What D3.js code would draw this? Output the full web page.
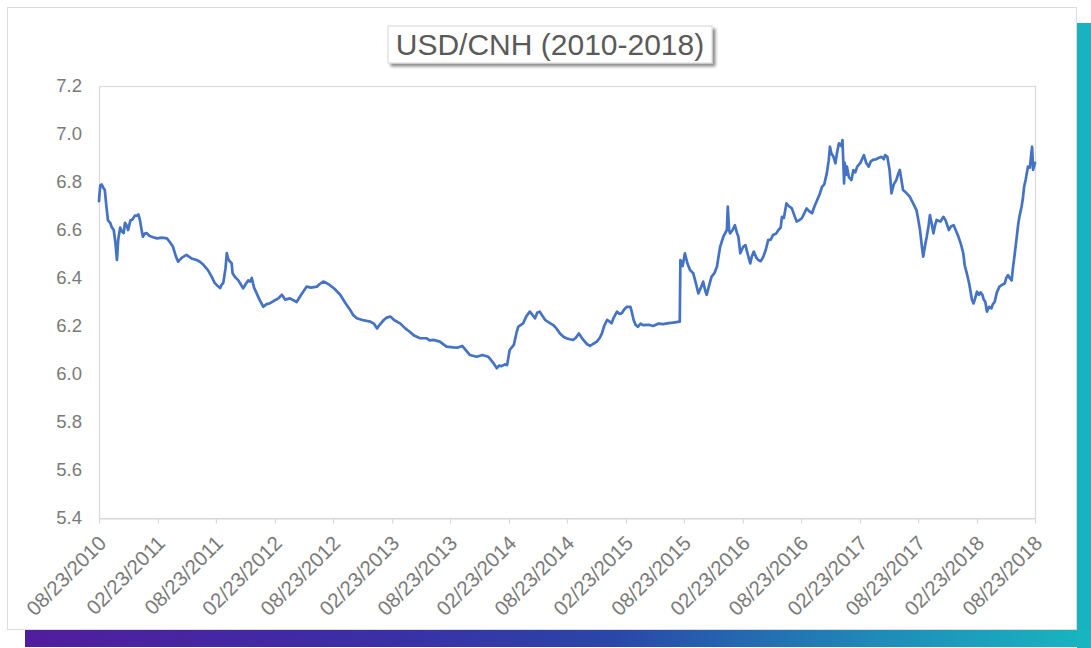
<!DOCTYPE html>
<html>
<head>
<meta charset="utf-8">
<script src="https://cdn.jsdelivr.net/npm/d3@7"></script>
<style>
  html, body { margin: 0; padding: 0; background: #ffffff; }
  svg { display: block; }
  text { font-family: "Liberation Sans", Arial, sans-serif; }
</style>
</head>
<body>
<svg id="chart" width="1091" height="648"></svg>
<script>
// USD/CNH closing levels, 2010-2018: [date, rate]
const observations = [
  ["2010-08-23",6.72],["2010-08-24",6.74],["2010-08-27",6.785],["2010-08-31",6.79],["2010-09-06",6.775],
  ["2010-09-10",6.767],["2010-09-15",6.70],["2010-09-20",6.64],["2010-09-27",6.63],["2010-10-01",6.614],
  ["2010-10-08",6.60],["2010-10-13",6.55],["2010-10-18",6.475],["2010-10-22",6.56],["2010-10-28",6.61],
  ["2010-11-02",6.595],["2010-11-08",6.587],["2010-11-12",6.63],["2010-11-17",6.62],["2010-11-22",6.60],
  ["2010-11-29",6.64],["2010-12-06",6.645],["2010-12-13",6.66],["2010-12-20",6.66],["2010-12-24",6.665],
  ["2010-12-29",6.64],
  ["2011-01-03",6.60],["2011-01-07",6.572],["2011-01-13",6.585],["2011-01-19",6.587],["2011-01-28",6.575],
  ["2011-02-08",6.57],["2011-02-20",6.565],["2011-03-07",6.568],["2011-03-23",6.565],["2011-04-01",6.55],
  ["2011-04-11",6.53],["2011-04-20",6.49],["2011-04-27",6.468],["2011-05-09",6.485],["2011-05-23",6.496],
  ["2011-06-10",6.48],["2011-06-24",6.475],["2011-07-04",6.468],["2011-07-15",6.455],["2011-07-29",6.433],
  ["2011-08-10",6.405],["2011-08-19",6.38],["2011-08-26",6.37],["2011-09-05",6.358],["2011-09-09",6.37],
  ["2011-09-15",6.38],["2011-09-22",6.44],["2011-09-26",6.504],["2011-09-30",6.48],["2011-10-05",6.47],
  ["2011-10-11",6.462],["2011-10-14",6.42],["2011-10-21",6.405],["2011-11-01",6.39],["2011-11-08",6.375],
  ["2011-11-16",6.357],["2011-11-24",6.375],["2011-12-02",6.39],["2011-12-08",6.385],["2011-12-13",6.40],
  ["2011-12-20",6.36],["2011-12-28",6.337],
  ["2012-01-06",6.31],["2012-01-18",6.28],["2012-01-27",6.29],["2012-02-08",6.295],["2012-02-20",6.305],
  ["2012-03-05",6.315],["2012-03-16",6.33],["2012-03-26",6.31],["2012-04-10",6.315],["2012-05-01",6.30],
  ["2012-05-15",6.33],["2012-06-01",6.364],["2012-06-15",6.36],["2012-07-03",6.364],["2012-07-12",6.375],
  ["2012-07-23",6.385],["2012-08-01",6.38],["2012-08-13",6.37],["2012-08-27",6.355],["2012-09-14",6.33],
  ["2012-09-28",6.30],["2012-10-15",6.267],["2012-10-25",6.245],["2012-11-05",6.232],["2012-11-22",6.225],
  ["2012-12-17",6.218],["2012-12-28",6.21],
  ["2013-01-07",6.19],["2013-01-15",6.205],["2013-01-28",6.225],["2013-02-06",6.235],["2013-02-18",6.239],
  ["2013-03-01",6.225],["2013-03-21",6.21],["2013-04-05",6.19],["2013-04-19",6.176],["2013-05-03",6.16],
  ["2013-05-21",6.149],["2013-06-10",6.149],["2013-06-20",6.14],["2013-07-02",6.142],["2013-07-22",6.135],
  ["2013-08-12",6.114],["2013-09-02",6.111],["2013-09-16",6.11],["2013-09-30",6.117],["2013-10-15",6.093],
  ["2013-10-24",6.079],["2013-11-05",6.075],["2013-11-14",6.072],["2013-12-02",6.079],["2013-12-20",6.072],
  ["2014-01-06",6.044],["2014-01-16",6.024],["2014-01-23",6.035],["2014-01-31",6.033],["2014-02-10",6.04],
  ["2014-02-17",6.037],["2014-02-25",6.10],["2014-03-03",6.11],["2014-03-10",6.121],["2014-03-18",6.17],
  ["2014-03-24",6.197],["2014-04-01",6.205],["2014-04-08",6.211],["2014-04-18",6.24],["2014-04-29",6.26],
  ["2014-05-08",6.245],["2014-05-15",6.232],["2014-05-22",6.255],["2014-05-30",6.26],["2014-06-06",6.245],
  ["2014-06-16",6.225],["2014-06-27",6.215],["2014-07-11",6.204],["2014-07-21",6.19],["2014-08-01",6.169],
  ["2014-08-12",6.155],["2014-08-21",6.149],["2014-09-01",6.145],["2014-09-11",6.142],["2014-09-19",6.15],
  ["2014-09-29",6.169],["2014-10-06",6.155],["2014-10-13",6.142],["2014-10-24",6.125],["2014-11-03",6.117],
  ["2014-11-12",6.125],["2014-11-24",6.135],["2014-12-03",6.15],["2014-12-10",6.169],["2014-12-17",6.20],
  ["2014-12-26",6.225],
  ["2015-01-02",6.22],["2015-01-09",6.211],["2015-01-16",6.235],["2015-01-26",6.26],["2015-02-03",6.25],
  ["2015-02-10",6.253],["2015-02-18",6.27],["2015-02-26",6.28],["2015-03-09",6.28],["2015-03-13",6.26],
  ["2015-03-19",6.225],["2015-03-25",6.205],["2015-04-01",6.197],["2015-04-10",6.21],["2015-04-17",6.204],
  ["2015-05-05",6.205],["2015-05-19",6.20],["2015-06-05",6.21],["2015-06-19",6.208],["2015-07-06",6.212],
  ["2015-07-20",6.214],["2015-08-10",6.218],["2015-08-12",6.475],["2015-08-19",6.45],["2015-08-26",6.503],
  ["2015-09-03",6.46],["2015-09-11",6.433],["2015-09-21",6.42],["2015-09-29",6.38],["2015-10-07",6.336],
  ["2015-10-15",6.36],["2015-10-22",6.385],["2015-10-28",6.35],["2015-11-02",6.33],["2015-11-10",6.37],
  ["2015-11-17",6.405],["2015-11-26",6.42],["2015-12-04",6.447],["2015-12-14",6.53],["2015-12-24",6.572],
  ["2016-01-04",6.60],["2016-01-07",6.697],["2016-01-11",6.60],["2016-01-14",6.586],["2016-01-22",6.60],
  ["2016-01-29",6.62],["2016-02-04",6.59],["2016-02-09",6.572],["2016-02-15",6.503],["2016-02-24",6.53],
  ["2016-03-02",6.537],["2016-03-09",6.50],["2016-03-17",6.461],["2016-03-22",6.49],["2016-03-28",6.51],
  ["2016-04-05",6.485],["2016-04-11",6.475],["2016-04-19",6.47],["2016-04-27",6.489],["2016-05-05",6.52],
  ["2016-05-12",6.558],["2016-05-20",6.56],["2016-05-27",6.579],["2016-06-06",6.585],["2016-06-13",6.60],
  ["2016-06-20",6.61],["2016-06-24",6.655],["2016-06-30",6.65],["2016-07-08",6.711],["2016-07-15",6.70],
  ["2016-07-25",6.69],["2016-08-02",6.66],["2016-08-09",6.635],["2016-08-16",6.64],["2016-08-25",6.649],
  ["2016-09-02",6.67],["2016-09-09",6.69],["2016-09-16",6.68],["2016-09-26",6.67],["2016-10-04",6.70],
  ["2016-10-12",6.725],["2016-10-20",6.75],["2016-10-27",6.78],["2016-11-03",6.79],["2016-11-11",6.836],
  ["2016-11-17",6.89],["2016-11-21",6.947],["2016-11-25",6.92],["2016-12-02",6.905],["2016-12-08",6.878],
  ["2016-12-14",6.93],["2016-12-19",6.961],["2016-12-26",6.95],["2016-12-30",6.975],
  ["2017-01-04",6.794],["2017-01-06",6.88],["2017-01-10",6.83],["2017-01-13",6.864],["2017-01-19",6.82],
  ["2017-01-27",6.808],["2017-02-02",6.85],["2017-02-08",6.84],["2017-02-14",6.864],["2017-02-24",6.88],
  ["2017-03-07",6.912],["2017-03-14",6.88],["2017-03-22",6.864],["2017-03-28",6.885],["2017-04-04",6.892],
  ["2017-04-14",6.895],["2017-04-21",6.90],["2017-05-01",6.905],["2017-05-08",6.895],["2017-05-12",6.912],
  ["2017-05-19",6.905],["2017-05-26",6.85],["2017-06-01",6.753],["2017-06-08",6.79],["2017-06-16",6.808],
  ["2017-06-21",6.83],["2017-06-27",6.85],["2017-07-03",6.80],["2017-07-07",6.767],["2017-07-17",6.755],
  ["2017-07-28",6.739],["2017-08-08",6.71],["2017-08-18",6.683],["2017-08-24",6.64],["2017-08-29",6.60],
  ["2017-09-04",6.53],["2017-09-08",6.489],["2017-09-13",6.53],["2017-09-19",6.572],["2017-09-25",6.62],
  ["2017-09-29",6.662],["2017-10-04",6.63],["2017-10-10",6.586],["2017-10-15",6.62],["2017-10-20",6.642],
  ["2017-11-01",6.635],["2017-11-10",6.655],["2017-11-17",6.64],["2017-11-27",6.60],["2017-12-04",6.615],
  ["2017-12-12",6.62],["2017-12-20",6.595],["2017-12-27",6.572],
  ["2018-01-04",6.54],["2018-01-11",6.503],["2018-01-16",6.45],["2018-01-22",6.42],["2018-01-29",6.38],
  ["2018-02-02",6.35],["2018-02-07",6.31],["2018-02-12",6.294],["2018-02-16",6.31],["2018-02-23",6.343],
  ["2018-03-01",6.33],["2018-03-06",6.34],["2018-03-12",6.329],["2018-03-16",6.31],["2018-03-21",6.30],
  ["2018-03-26",6.26],["2018-04-02",6.28],["2018-04-09",6.274],["2018-04-13",6.29],["2018-04-19",6.30],
  ["2018-04-26",6.34],["2018-05-04",6.364],["2018-05-11",6.37],["2018-05-21",6.378],["2018-05-25",6.40],
  ["2018-05-31",6.412],["2018-06-05",6.40],["2018-06-11",6.39],["2018-06-15",6.44],["2018-06-21",6.503],
  ["2018-06-26",6.56],["2018-07-02",6.628],["2018-07-06",6.66],["2018-07-12",6.697],["2018-07-16",6.73],
  ["2018-07-20",6.78],["2018-07-25",6.81],["2018-08-01",6.864],["2018-08-07",6.86],["2018-08-10",6.90],
  ["2018-08-14",6.947],["2018-08-17",6.85],["2018-08-21",6.87],["2018-08-23",6.88]
];
const xTickDates = [
  "2010-08-23","2011-02-23","2011-08-23","2012-02-23","2012-08-23","2013-02-23",
  "2013-08-23","2014-02-23","2014-08-23","2015-02-23","2015-08-23","2016-02-23",
  "2016-08-23","2017-02-23","2017-08-23","2018-02-23","2018-08-23"
];
const xTickLabels = [
  "08/23/2010","02/23/2011","08/23/2011","02/23/2012","08/23/2012","02/23/2013",
  "08/23/2013","02/23/2014","08/23/2014","02/23/2015","08/23/2015","02/23/2016",
  "08/23/2016","02/23/2017","08/23/2017","02/23/2018","08/23/2018"
];
const yTickValues = [5.4, 5.6, 5.8, 6.0, 6.2, 6.4, 6.6, 6.8, 7.0, 7.2];
const chartTitle = "USD/CNH (2010-2018)";

const parse = d3.timeParse("%Y-%m-%d");
const series = observations.map(([d, v]) => ({ date: parse(d), value: v }));

const svg = d3.select("#chart");
const defs = svg.append("defs");

// page decoration: framed card with a coloured edge
const grad = defs.append("linearGradient").attr("id", "band").attr("x1", "0%").attr("x2", "100%");
[["0%", "#501d9e"], ["35%", "#3a30a6"], ["55%", "#2a46a8"], ["80%", "#1f8bb8"], ["100%", "#18b6c0"]]
  .forEach(([o, c]) => grad.append("stop").attr("offset", o).attr("stop-color", c));

const shadow = defs.append("filter").attr("id", "shadow")
  .attr("x", "-10%").attr("y", "-30%").attr("width", "130%").attr("height", "180%");
shadow.append("feDropShadow").attr("dx", 3).attr("dy", 3).attr("stdDeviation", 1.6)
  .attr("flood-color", "#000").attr("flood-opacity", 0.45);

svg.append("rect").attr("width", 1091).attr("height", 648).attr("fill", "#ffffff");
svg.append("rect").attr("x", 1077).attr("y", 23).attr("width", 14).attr("height", 625).attr("fill", "#18b3c0");
svg.append("rect").attr("x", 25).attr("y", 630).attr("width", 1066).attr("height", 17).attr("fill", "url(#band)");
svg.append("rect").attr("x", 7.5).attr("y", 7.5).attr("width", 1069).attr("height", 622)
  .attr("fill", "#ffffff").attr("stroke", "#dcdcdc").attr("stroke-width", 1);

// scales
const plot = { left: 99, right: 1035, top: 86, bottom: 518 };
const x = d3.scaleTime()
  .domain([parse(xTickDates[0]), parse(xTickDates[xTickDates.length - 1])])
  .range([plot.left, plot.right]);
const y = d3.scaleLinear().domain([5.4, 7.2]).range([plot.bottom, plot.top]);

// plot area border
svg.append("rect")
  .attr("x", plot.left + 0.5).attr("y", plot.top + 0.5)
  .attr("width", plot.right - plot.left).attr("height", plot.bottom - plot.top)
  .attr("fill", "none").attr("stroke", "#d9d9d9").attr("stroke-width", 1.2);

// y axis
const yAxis = d3.axisLeft(y).tickValues(yTickValues).tickSize(0).tickPadding(0)
  .tickFormat(d3.format(".1f"));
const gy = svg.append("g").attr("transform", `translate(${plot.left - 17},0)`).call(yAxis);
gy.select(".domain").remove();
gy.selectAll("text").attr("fill", "#7a7a7a").attr("font-size", 18.5)
  .attr("font-family", "'Liberation Sans', Arial, sans-serif");

// x axis
const xAxis = d3.axisBottom(x).tickValues(xTickDates.map(parse)).tickSize(5).tickSizeOuter(0)
  .tickFormat((d, i) => xTickLabels[i]);
const gx = svg.append("g").attr("transform", `translate(0,${plot.bottom + 0.5})`).call(xAxis);
gx.select(".domain").attr("stroke", "#d9d9d9").attr("stroke-width", 1.2);
gx.selectAll(".tick line").attr("stroke", "#d9d9d9").attr("stroke-width", 1.2);
gx.selectAll("text")
  .attr("fill", "#7a7a7a").attr("font-size", 20.5)
  .attr("font-family", "'Liberation Sans', Arial, sans-serif")
  .attr("text-anchor", "end")
  .attr("dy", null).attr("y", null)
  .attr("transform", "translate(8,26) rotate(-45)");

// the rate line
const line = d3.line().x(d => x(d.date)).y(d => y(d.value)).curve(d3.curveLinear);
svg.append("path").datum(series)
  .attr("d", line)
  .attr("fill", "none")
  .attr("stroke", "#4472c4")
  .attr("stroke-width", 2.7)
  .attr("stroke-linejoin", "round")
  .attr("stroke-linecap", "round");

// title box
const tg = svg.append("g");
tg.append("rect").attr("x", 388).attr("y", 26).attr("width", 324).attr("height", 37)
  .attr("fill", "#ffffff").attr("stroke", "#d6d6d6").attr("stroke-width", 1)
  .attr("filter", "url(#shadow)");
tg.append("text").attr("x", 550).attr("y", 54.5).attr("text-anchor", "middle")
  .attr("font-size", 30).attr("fill", "#5a5a5a").text(chartTitle);
</script>
</body>
</html>
